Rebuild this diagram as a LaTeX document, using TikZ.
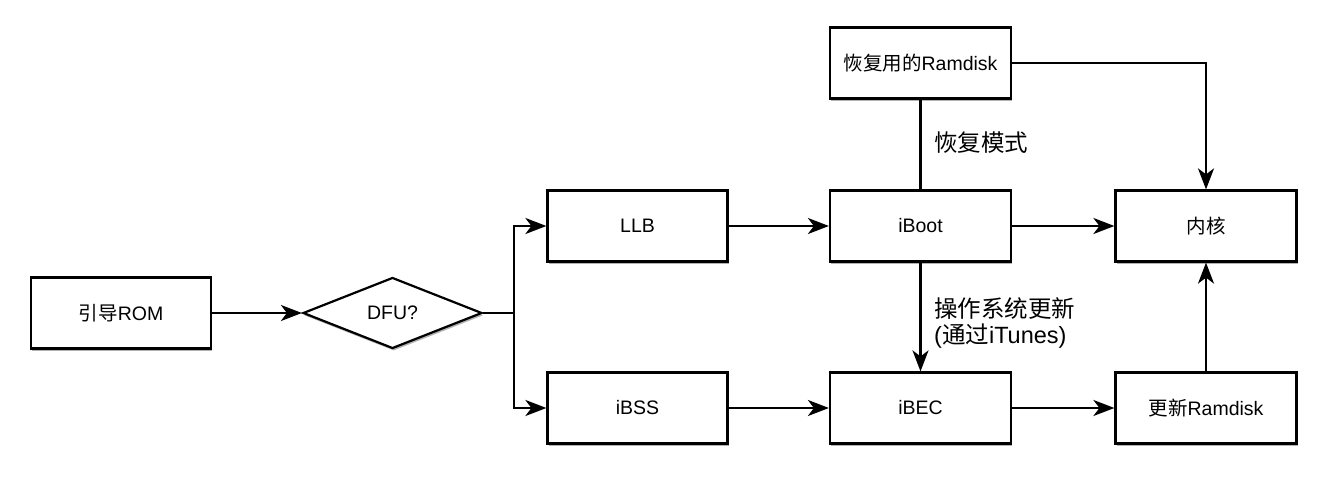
\documentclass[tikz,border=0pt]{standalone}
\usepackage{fontspec}
\setmainfont{Liberation Sans}
\newfontfamily\cjk{Noto Sans CJK SC}
\usetikzlibrary{arrows.meta,shapes.geometric,shadows}
\begin{document}
\begin{tikzpicture}[x=1pt,y=-1pt,
  box/.style={draw,line width=2.2pt,fill=white,minimum width=180pt,minimum height=71pt,inner sep=0pt,
    font=\fontsize{19.5}{22}\selectfont,
    drop shadow={shadow xshift=1.2pt,shadow yshift=-2.4pt,opacity=0.3,fill=black}},
  dia/.style={draw,line width=2.2pt,fill=white,shape=diamond,aspect=2.5,minimum width=179pt,minimum height=71pt,inner sep=0pt,
    font=\fontsize{19.5}{22}\selectfont,
    drop shadow={shadow xshift=1.2pt,shadow yshift=-2.4pt,opacity=0.3,fill=black}},
  conn/.style={line width=2.2pt,-{Stealth[length=21pt,width=16pt,inset=6pt]}},
  plain/.style={line width=2.2pt},
  lbl/.style={font=\fontsize{23.5}{26}\selectfont,inner sep=0pt,align=left}
]
\useasboundingbox (0,0) rectangle (1324,478);
\node[box] (rom) at (121,313) {{\cjk 引导}ROM};
\node[dia] (dfu) at (392.5,313) {DFU?};
\node[box] (llb) at (637.5,226) {LLB};
\node[box] (ibss) at (637.5,408) {iBSS};
\node[box,minimum width=181pt] (iboot) at (920.5,226) {iBoot};
\node[box,minimum width=181pt] (ibec) at (920.5,408) {iBEC};
\node[box,minimum width=181pt] (rec) at (920.5,63) {{\cjk 恢复用的}Ramdisk};
\node[box,minimum width=181pt] (kern) at (1206,226) {\cjk 内核};
\node[box,minimum width=181pt] (upd) at (1206,408) {{\cjk 更新}Ramdisk};
\coordinate (br) at (514,313);
\draw[conn] (rom) -- (dfu);
\draw[plain] (dfu.east) -- (br);
\draw[conn] (br) |- (llb.west);
\draw[conn] (br) |- (ibss.west);
\draw[conn] (llb) -- (iboot);
\draw[conn] (ibss) -- (ibec);
\draw[conn] (iboot) -- (kern);
\draw[conn] (ibec) -- (upd);
\draw[conn] (upd) -- (kern);
\draw[conn] (rec.east) -| (kern.north);
\draw[plain] (rec) -- (iboot);
\draw[conn] (iboot) -- (ibec);
\node[lbl,anchor=west] (lrec) at (934,143) {\cjk 恢复模式};
\node[lbl,anchor=north west] (lupd) at (934,297) {{\cjk 操作系统更新}\\({\cjk 通过}iTunes)};
\end{tikzpicture}
\end{document}
